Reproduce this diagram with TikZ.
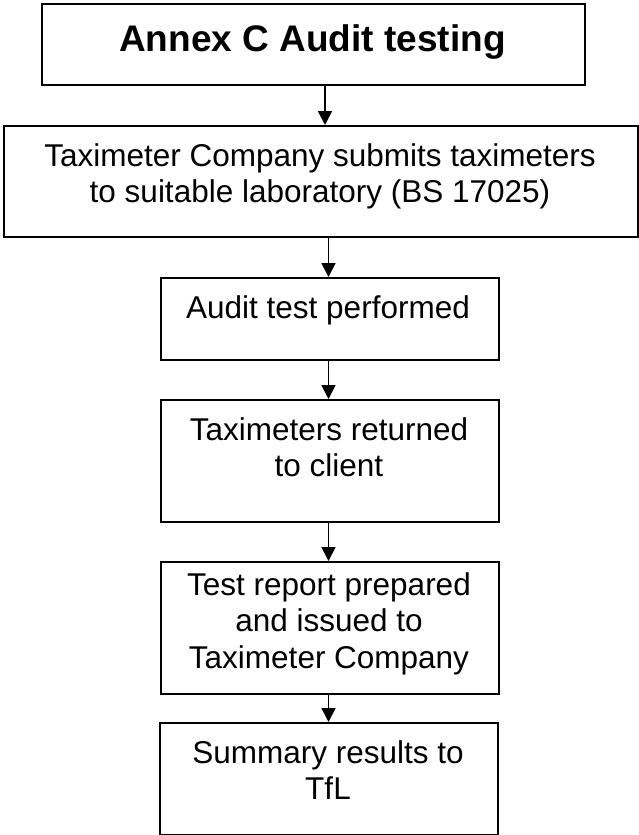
\documentclass[tikz,border=0pt]{standalone}
\usepackage{fontspec}
\setmainfont{Liberation Sans}
\usetikzlibrary{arrows.meta}
\begin{document}
\begin{tikzpicture}[x=1pt,y=-1pt,
  stepbox/.style={draw, line width=1.8pt, rectangle, inner sep=0pt, anchor=north west},
  txt/.style={anchor=north, align=center, inner sep=0pt, font=\fontsize{31.5}{36.5}\selectfont},
  ttl/.style={anchor=north, align=center, inner sep=0pt, font=\fontsize{37}{42}\selectfont\bfseries},
  arr/.style={line width=1.8pt, -{Triangle[length=14pt,width=14pt]}}]
\useasboundingbox (0,0) rectangle (638,835);
% boxes
\node[stepbox, minimum width=543pt, minimum height=81pt] (b1) at (41,3) {};
\node[stepbox, minimum width=634pt, minimum height=111pt] (b2) at (3,125) {};
\node[stepbox, minimum width=338pt, minimum height=82pt] (b3) at (160,277) {};
\node[stepbox, minimum width=338pt, minimum height=122pt] (b4) at (160,399) {};
\node[stepbox, minimum width=338pt, minimum height=132pt] (b5) at (160,561) {};
\node[stepbox, minimum width=338pt, minimum height=112pt] (b6) at (159,722) {};
% texts
\node[ttl] (t1) at (312.5,24) {Annex C Audit testing};
\node[txt] (t2) at (320,143) {Taximeter Company submits taximeters\\to suitable laboratory (BS 17025)};
\node[txt] (t3) at (328,295) {Audit test performed};
\node[txt] (t4) at (329,417) {Taximeters returned\\to client};
\node[txt] (t5) at (329,572) {Test report prepared\\and issued to\\Taximeter Company};
\node[txt] (t6) at (328,740) {Summary results to\\TfL};
% arrows
\coordinate (a1) at (325,0);
\coordinate (a2) at (328.5,0);
\draw[arr] (b1.south -| a1) -- (b2.north -| a1);
\draw[arr] (b2.south -| a2) -- (b3.north -| a2);
\draw[arr] (b3.south -| a2) -- (b4.north -| a2);
\draw[arr] (b4.south -| a2) -- (b5.north -| a2);
\draw[arr] (b5.south -| a2) -- (b6.north -| a2);
\end{tikzpicture}
\end{document}
